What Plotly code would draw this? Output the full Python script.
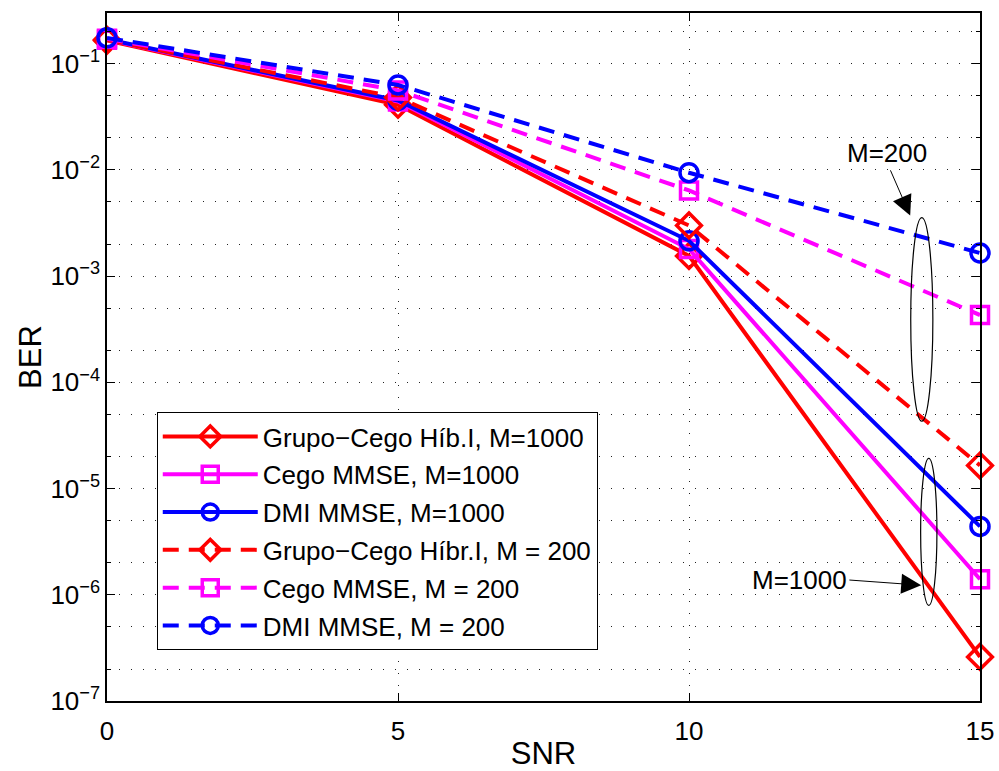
import plotly.graph_objects as go

# SNR points (dB)
snr = [0, 5, 10, 15]

# BER curves, M = 1000 symbols
ber_grupo_1000 = [0.165, 0.041, 1.55e-3, 2.6e-7]
ber_cego_1000 = [0.168, 0.044, 1.8e-3, 1.4e-6]
ber_dmi_1000 = [0.17, 0.045, 2.15e-3, 4.4e-6]

# BER curves, M = 200 symbols
ber_grupo_200 = [0.168, 0.048, 3.0e-3, 1.65e-5]
ber_cego_200 = [0.172, 0.056, 6.4e-3, 4.3e-4]
ber_dmi_200 = [0.175, 0.063, 9.4e-3, 1.65e-3]

# Axis ticks
x_ticks = [0, 5, 10, 15]
y_exponents = [-7, -6, -5, -4, -3, -2, -1]

names = [
    "Grupo\u2212Cego Híb.I, M=1000",
    "Cego MMSE, M=1000",
    "DMI MMSE, M=1000",
    "Grupo\u2212Cego Híbr.I, M = 200",
    "Cego MMSE, M = 200",
    "DMI MMSE, M = 200",
]
series = [ber_grupo_1000, ber_cego_1000, ber_dmi_1000,
          ber_grupo_200, ber_cego_200, ber_dmi_200]

RED, MAG, BLUE = "#ff0000", "#ff00ff", "#0000ff"
colors = [RED, MAG, BLUE, RED, MAG, BLUE]
symbols = ["diamond-open", "square-open", "circle-open"] * 2
msizes = [19, 17, 18] * 2
dashes = ["solid"] * 3 + ["16px,10px"] * 3

fig = go.Figure()
for i, (nm, ys) in enumerate(zip(names, series)):
    fig.add_trace(go.Scatter(
        x=snr, y=ys, name=nm, mode="lines+markers",
        legendgroup=f"g{i}", cliponaxis=False,
        line=dict(color=colors[i], width=4, dash=dashes[i]),
        marker=dict(symbol=symbols[i], size=msizes[i], color=colors[i],
                    line=dict(color=colors[i], width=3.5)),
    ))

FAMILY = "Liberation Sans, Arial, Helvetica, sans-serif"
FS = 26
grid_dash = "1px,11px"
GRID = "#222222"

fig.update_layout(
    width=999, height=771,
    margin=dict(l=107, r=19, t=13, b=70),
    paper_bgcolor="white", plot_bgcolor="white",
    font=dict(family=FAMILY, size=FS, color="black"),
    showlegend=True,
    legend=dict(
        x=0.057, y=0.42, xanchor="left", yanchor="top",
        bgcolor="white", bordercolor="black", borderwidth=1,
        font=dict(size=FS), tracegroupgap=1, itemwidth=95,
    ),
    xaxis=dict(
        title=dict(text="SNR", standoff=10),
        automargin=False,
        range=[0, 15], tickvals=x_ticks,
        ticks="inside", ticklen=8, tickcolor="black",
        ticklabelstandoff=6,
        showline=True, linecolor="black", linewidth=1.5, mirror="allticks",
        showgrid=True, gridcolor=GRID, gridwidth=1, griddash=grid_dash,
        zeroline=False,
    ),
    yaxis=dict(
        title=dict(text="BER", standoff=0),
        automargin=False,
        type="log", range=[-7, -0.523],
        tickvals=[10.0 ** e for e in y_exponents],
        ticktext=[f"10<sup>\u2212{-e}</sup>" for e in y_exponents],
        ticks="inside", ticklen=8, tickcolor="black",
        showline=True, linecolor="black", linewidth=1.5, mirror="allticks",
        showgrid=True, gridcolor=GRID, gridwidth=1, griddash=grid_dash,
        minor=dict(ticks="inside", ticklen=4, tickcolor="black",
                   showgrid=True, gridcolor=GRID, gridwidth=1, griddash=grid_dash),
        zeroline=False,
    ),
)

# Ellipses grouping the curves at SNR = 14
fig.add_shape(type="circle", xref="x", yref="y",
              x0=13.81, x1=14.19, y0=4.3e-5, y1=3.56e-3,
              line=dict(color="black", width=1.2))
fig.add_shape(type="circle", xref="x", yref="y",
              x0=13.98, x1=14.26, y0=7.96e-7, y1=1.92e-5,
              line=dict(color="black", width=1.2))

# Labels with arrows (log10 positions on the y axis)
fig.add_annotation(x=13.8, y=-2.43, ax=13.45, ay=-1.99, axref="x", ayref="y",
                   xref="x", yref="y", text="", showarrow=True,
                   arrowhead=2, arrowsize=4, arrowwidth=1, arrowcolor="black")
fig.add_annotation(x=13.4, y=-1.84, xref="x", yref="y", text="M=200",
                   showarrow=False, font=dict(size=FS))
fig.add_annotation(x=13.99, y=-5.91, ax=12.73, ay=-5.86, axref="x", ayref="y",
                   xref="x", yref="y", text="", showarrow=True,
                   arrowhead=2, arrowsize=4, arrowwidth=1, arrowcolor="black")
fig.add_annotation(x=11.9, y=-5.86, xref="x", yref="y", text="M=1000",
                   showarrow=False, font=dict(size=FS))

fig.write_html("out.html")
